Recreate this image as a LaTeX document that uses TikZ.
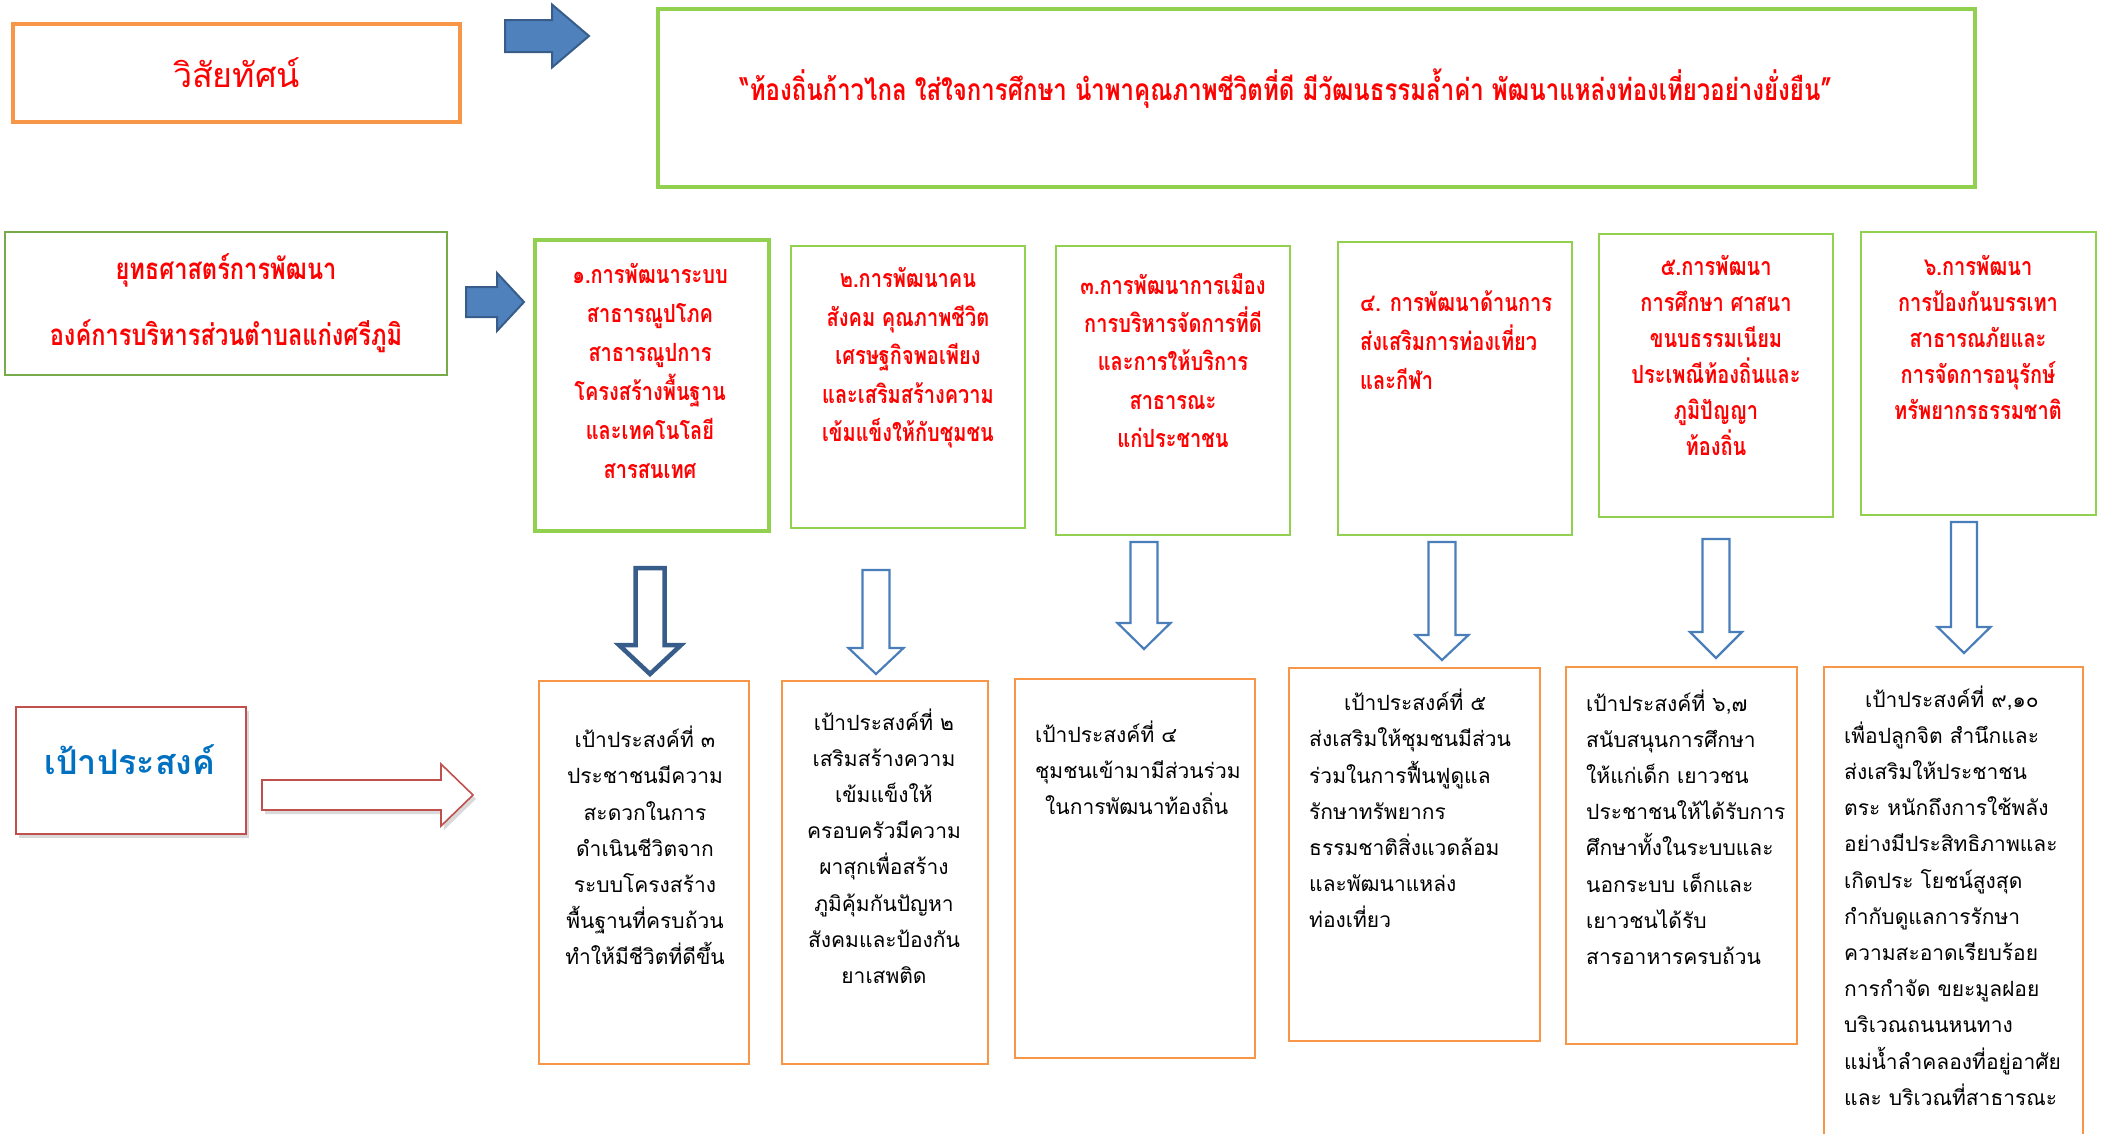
\documentclass[tikz,border=0pt]{standalone}
\usepackage{fontspec}
\newfontfamily\thai[Script=Thai]{Loma}
\newfontfamily\thainarrow[Script=Thai,FakeStretch=0.8]{Loma}
\usetikzlibrary{shadows}

\definecolor{visorange}{HTML}{F79646}
\definecolor{planred}{HTML}{FF0000}
\definecolor{limegreen}{HTML}{92D050}
\definecolor{darkgreen}{HTML}{77AB4A}
\definecolor{blockblue}{HTML}{4F81BD}
\definecolor{blockedge}{HTML}{385D8A}
\definecolor{hollowblue}{HTML}{4A7EBB}
\definecolor{goalred}{HTML}{C0504D}
\definecolor{goalblue}{HTML}{0070C0}

% hollow block arrow pointing down: style, x, top, head start, tip, half shaft, half head
\newcommand\downblock[7]{%
  \draw[#1] ({#2-#6},#3) -- ({#2+#6},#3) -- ({#2+#6},#4) -- ({#2+#7},#4)
    -- (#2,#5) -- ({#2-#7},#4) -- ({#2-#6},#4) -- cycle;}
% block arrow pointing right: style, left, head start, tip, y, half shaft, half head
\newcommand\rightblock[7]{%
  \draw[#1] (#2,{#5-#6}) -- (#3,{#5-#6}) -- (#3,{#5-#7}) -- (#4,#5)
    -- (#3,{#5+#7}) -- (#3,{#5+#6}) -- (#2,{#5+#6}) -- cycle;}

\begin{document}
\begin{tikzpicture}[x=1pt, y=-1pt,
    visbox/.style={rectangle, draw=visorange, line width=4.5pt,
        text=planred, font=\thai\fontsize{34}{40}\selectfont},
    quotebox/.style={rectangle, draw=limegreen, line width=4.5pt},
    stratbox/.style={rectangle, draw=darkgreen, line width=2.5pt, align=center,
        text=planred, font=\thainarrow\bfseries\fontsize{29.5}{66}\selectfont},
    planbox/.style={rectangle, draw=limegreen, line width=2.5pt},
    goalbox/.style={rectangle, draw=visorange, line width=1.6pt},
    labelbox/.style={rectangle, draw=goalred, line width=1.6pt, fill=white,
        drop shadow={shadow xshift=3pt, shadow yshift=-4pt, opacity=0.3}},
    plantext/.style={text=planred, align=center, inner sep=0pt,
        font=\thainarrow\bfseries\fontsize{25}{#1}\selectfont},
    plantext/.default=39,
    goaltext/.style={text=black, align=center, inner sep=0pt,
        font=\thai\fontsize{21}{36.2}\selectfont},
    filledarrow/.style={fill=blockblue, draw=blockedge, line width=2pt},
    hollowarrow/.style={fill=white, draw=hollowblue, line width=2.2pt},
    redarrow/.style={fill=white, draw=goalred, line width=1.6pt,
        drop shadow={shadow xshift=3pt, shadow yshift=-4pt, opacity=0.3}}]

\useasboundingbox (0,0) rectangle (2107,1133);

% vision
\node (vision) [visbox, minimum width=447, minimum height=98] at (236.5,73) {วิสัยทัศน์};
\node (quote) [quotebox, minimum width=1317, minimum height=178] at (1316.5,98) {};
\node (quotetext) [text=planred, inner sep=0pt,
    font=\thainarrow\bfseries\fontsize{30}{34}\selectfont] at (1286,89)
    {“ท้องถิ่นก้าวไกล ใส่ใจการศึกษา นำพาคุณภาพชีวิตที่ดี มีวัฒนธรรมล้ำค่า พัฒนาแหล่งท่องเที่ยวอย่างยั่งยืน”};

% strategy
\node (strategy) [stratbox, minimum width=442, minimum height=143] at (226,303.5)
    {ยุทธศาสตร์การพัฒนา\\องค์การบริหารส่วนตำบลแก่งศรีภูมิ};

\node (s1) [planbox, line width=4.5pt, minimum width=234, minimum height=291] at (652,385.5) {};
\node (s2) [planbox, minimum width=234, minimum height=282] at (908,387) {};
\node (s3) [planbox, minimum width=234, minimum height=289] at (1173,390.5) {};
\node (s4) [planbox, minimum width=234, minimum height=293] at (1455,388.5) {};
\node (s5) [planbox, minimum width=234, minimum height=283] at (1716,375.5) {};
\node (s6) [planbox, minimum width=235, minimum height=283] at (1978.5,373.5) {};

\node (s1t) [plantext] at (650,370.5)
    {๑.การพัฒนาระบบ\\สาธารณูปโภค\\สาธารณูปการ\\โครงสร้างพื้นฐาน\\และเทคโนโลยี\\สารสนเทศ};
\node (s2t) [plantext=38.5] at (908,358)
    {๒.การพัฒนาคน\\สังคม คุณภาพชีวิต\\เศรษฐกิจพอเพียง\\และเสริมสร้างความ\\เข้มแข็งให้กับชุมชน};
\node (s3t) [plantext=38.3] at (1173,360.5)
    {๓.การพัฒนาการเมือง\\การบริหารจัดการที่ดี\\และการให้บริการ\\สาธารณะ\\แก่ประชาชน};
\node (s4t) [plantext, align=left, anchor=west] at (1360,340)
    {๔. การพัฒนาด้านการ\\ส่งเสริมการท่องเที่ยว\\และกีฬา};
\node (s5t) [plantext=36] at (1716,355)
    {๕.การพัฒนา\\การศึกษา ศาสนา\\ขนบธรรมเนียม\\ประเพณีท้องถิ่นและ\\ภูมิปัญญา\\ท้องถิ่น};
\node (s6t) [plantext=36] at (1978,337)
    {๖.การพัฒนา\\การป้องกันบรรเทา\\สาธารณภัยและ\\การจัดการอนุรักษ์\\ทรัพยากรธรรมชาติ};

% goals
\node (goal) [labelbox, minimum width=230, minimum height=127] at (131,770.5) {};
\node (goaltitle) [text=goalblue, inner sep=0pt,
    font=\thai\bfseries\fontsize{34}{40}\selectfont] at (130,760) {เป้าประสงค์};

\node (g1) [goalbox, minimum width=210, minimum height=383] at (644,872.5) {};
\node (g2) [goalbox, minimum width=206, minimum height=383] at (885,872.5) {};
\node (g3) [goalbox, minimum width=240, minimum height=379] at (1135,868.5) {};
\node (g4) [goalbox, minimum width=251, minimum height=373] at (1414.5,854.5) {};
\node (g5) [goalbox, minimum width=231, minimum height=377] at (1681.5,855.5) {};
\node (g6) [goalbox, minimum width=259, minimum height=483] at (1953.5,908.5) {};

\node (g1t) [goaltext] at (645,845.5)
    {เป้าประสงค์ที่ ๓\\ประชาชนมีความ\\สะดวกในการ\\ดำเนินชีวิตจาก\\ระบบโครงสร้าง\\พื้นฐานที่ครบถ้วน\\ทำให้มีชีวิตที่ดีขึ้น};
\node (g2t) [goaltext] at (884,846)
    {เป้าประสงค์ที่ ๒\\เสริมสร้างความ\\เข้มแข็งให้\\ครอบครัวมีความ\\ผาสุกเพื่อสร้าง\\ภูมิคุ้มกันปัญหา\\สังคมและป้องกัน\\ยาเสพติด};
\node (g3t) [goaltext, align=left, anchor=west] at (1035,768)
    {เป้าประสงค์ที่ ๔\\ชุมชนเข้ามามีส่วนร่วม\\\hspace*{10pt}ในการพัฒนาท้องถิ่น};
\node (g4t) [goaltext, align=left, anchor=west] at (1309,808.5)
    {\hspace*{35pt}เป้าประสงค์ที่ ๕\\ส่งเสริมให้ชุมชนมีส่วน\\ร่วมในการฟื้นฟูดูแล\\รักษาทรัพยากร\\ธรรมชาติสิ่งแวดล้อม\\และพัฒนาแหล่ง\\ท่องเที่ยว};
\node (g5t) [goaltext, align=left, anchor=west] at (1586,827)
    {เป้าประสงค์ที่ ๖,๗\\สนับสนุนการศึกษา\\ให้แก่เด็ก เยาวชน\\ประชาชนให้ได้รับการ\\ศึกษาทั้งในระบบและ\\นอกระบบ เด็กและ\\เยาวชนได้รับ\\สารอาหารครบถ้วน};
\node (g6t) [goaltext, align=left, anchor=west] at (1844,895.5)
    {\hspace*{21pt}เป้าประสงค์ที่ ๙,๑๐\\เพื่อปลูกจิต สำนึกและ\\ส่งเสริมให้ประชาชน\\ตระ หนักถึงการใช้พลัง\\อย่างมีประสิทธิภาพและ\\เกิดประ โยชน์สูงสุด\\กำกับดูแลการรักษา\\ความสะอาดเรียบร้อย\\การกำจัด ขยะมูลฝอย\\บริเวณถนนหนทาง\\แม่น้ำลำคลองที่อยู่อาศัย\\และ บริเวณที่สาธารณะ};

% arrows
\rightblock{filledarrow}{505}{552}{589}{36}{16}{31.5}
\rightblock{filledarrow}{466}{497}{524}{302}{15}{29}
\rightblock{redarrow}{262}{441}{473}{795}{15}{31}

\downblock{hollowarrow, draw=blockedge, line width=4.5pt}{650}{568}{645}{674}{14.5}{31}
\downblock{hollowarrow}{876}{570}{648}{674}{13.5}{27.5}
\downblock{hollowarrow}{1144}{542}{623}{649}{13.5}{26.5}
\downblock{hollowarrow}{1442}{542}{635}{660}{13.5}{26.5}
\downblock{hollowarrow}{1716}{539}{632}{658}{13.5}{26}
\downblock{hollowarrow}{1964}{522}{627}{653}{13}{26.5}

\end{tikzpicture}
\end{document}
